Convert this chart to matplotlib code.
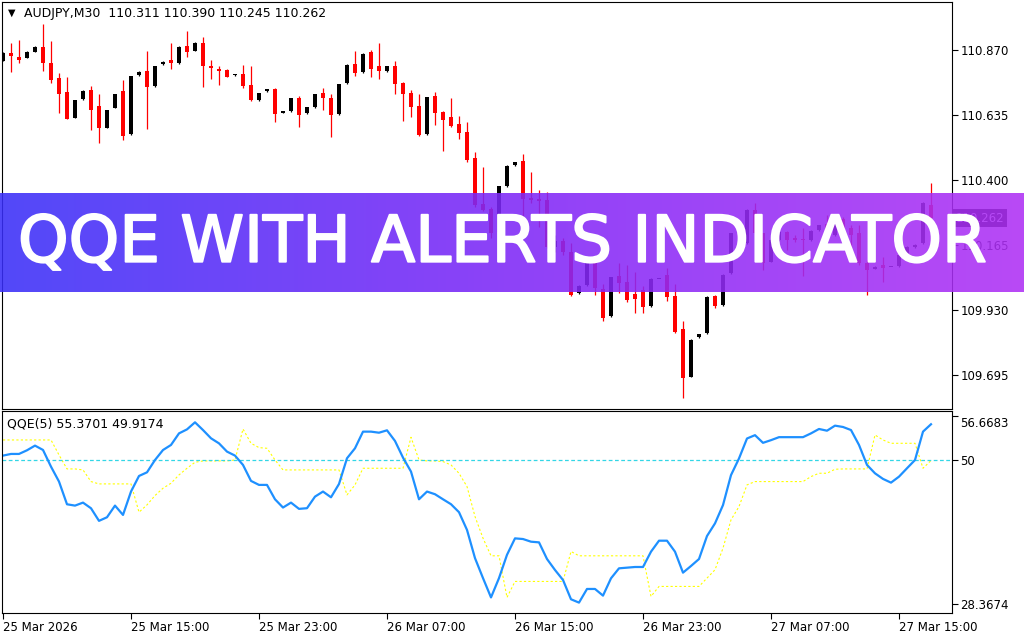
import numpy as np
import matplotlib.pyplot as plt
import matplotlib.patheffects as pe
from matplotlib.transforms import blended_transform_factory, ScaledTranslation

plt.rcParams['font.family'] = 'DejaVu Sans'

# AUDJPY M30 bars, 25 Mar 07:00 .. 27 Mar 17:00
opens = [110.831, 110.860, 110.845, 110.842, 110.864, 110.882, 110.824, 110.769, 110.719, 110.625,
         110.692, 110.725, 110.668, 110.589, 110.661, 110.722, 110.566, 110.780, 110.794, 110.740,
         110.818, 110.834, 110.822, 110.886, 110.867, 110.896, 110.813, 110.802, 110.798, 110.779,
         110.783, 110.743, 110.689, 110.722, 110.729, 110.643, 110.649, 110.696, 110.642, 110.664,
         110.714, 110.696, 110.639, 110.751, 110.819, 110.790, 110.863, 110.812, 110.794, 110.812,
         110.751, 110.714, 110.668, 110.566, 110.704, 110.646, 110.628, 110.602, 110.574, 110.480,
         110.313, 110.295, 110.212, 110.378, 110.454, 110.469, 110.335, 110.331, 110.328, 110.158,
         110.180, 110.140, 109.991, 110.020, 110.104, 110.006, 109.908, 110.053, 110.031, 109.988,
         110.002, 109.944, 110.042, 110.057, 109.981, 109.861, 109.688, 109.832, 109.847, 109.981,
         109.948, 110.064, 110.208, 110.172, 110.292, 110.208, 110.104, 110.183, 110.212, 110.190,
         110.188, 110.183, 110.219, 110.241, 110.201, 110.259, 110.226, 110.208, 110.100, 110.079,
         110.093, 110.085, 110.089, 110.129, 110.158, 110.172, 110.311]
highs = [110.862, 110.894, 110.906, 110.866, 110.884, 110.964, 110.903, 110.788, 110.773, 110.691,
         110.724, 110.740, 110.713, 110.655, 110.713, 110.762, 110.778, 110.794, 110.866, 110.814,
         110.830, 110.894, 110.884, 110.939, 110.898, 110.918, 110.834, 110.812, 110.800, 110.782,
         110.816, 110.812, 110.716, 110.731, 110.732, 110.651, 110.698, 110.704, 110.666, 110.713,
         110.733, 110.711, 110.749, 110.818, 110.866, 110.858, 110.870, 110.895, 110.814, 110.830,
         110.754, 110.725, 110.711, 110.702, 110.718, 110.649, 110.696, 110.631, 110.610, 110.502,
         110.447, 110.302, 110.380, 110.453, 110.467, 110.494, 110.429, 110.364, 110.357, 110.200,
         110.190, 110.172, 110.019, 110.106, 110.106, 110.024, 110.051, 110.100, 110.093, 110.067,
         110.017, 110.044, 110.042, 110.082, 110.024, 109.890, 109.824, 109.845, 109.979, 109.984,
         110.059, 110.210, 110.240, 110.294, 110.317, 110.210, 110.185, 110.215, 110.214, 110.200,
         110.226, 110.218, 110.239, 110.273, 110.257, 110.266, 110.237, 110.237, 110.111, 110.088,
         110.122, 110.087, 110.131, 110.160, 110.167, 110.319, 110.390]
lows = [110.829, 110.792, 110.822, 110.840, 110.862, 110.794, 110.752, 110.641, 110.620, 110.623,
        110.690, 110.581, 110.533, 110.587, 110.659, 110.545, 110.564, 110.778, 110.584, 110.738,
        110.816, 110.801, 110.820, 110.846, 110.865, 110.737, 110.765, 110.743, 110.771, 110.778,
        110.734, 110.687, 110.687, 110.720, 110.610, 110.641, 110.647, 110.592, 110.640, 110.662,
        110.653, 110.555, 110.637, 110.749, 110.777, 110.788, 110.772, 110.765, 110.792, 110.711,
        110.613, 110.628, 110.561, 110.564, 110.599, 110.505, 110.593, 110.548, 110.465, 110.302,
        110.289, 110.190, 110.210, 110.376, 110.452, 110.212, 110.317, 110.230, 110.154, 110.140,
        110.130, 109.981, 109.989, 110.018, 109.984, 109.890, 109.906, 109.991, 109.959, 109.919,
        109.919, 109.942, 110.042, 109.963, 109.848, 109.612, 109.686, 109.830, 109.845, 109.937,
        109.946, 110.062, 110.205, 110.170, 110.206, 110.075, 110.102, 110.180, 110.147, 110.175,
        110.053, 110.181, 110.217, 110.158, 110.199, 110.158, 110.137, 110.093, 109.984, 110.077,
        110.031, 110.084, 110.087, 110.127, 110.156, 110.170, 110.245]
closes = [110.860, 110.849, 110.834, 110.864, 110.882, 110.824, 110.762, 110.713, 110.622, 110.689,
          110.722, 110.653, 110.589, 110.653, 110.711, 110.559, 110.776, 110.792, 110.737, 110.812,
          110.828, 110.822, 110.882, 110.864, 110.896, 110.813, 110.804, 110.795, 110.773, 110.781,
          110.741, 110.689, 110.714, 110.729, 110.640, 110.649, 110.696, 110.635, 110.664, 110.711,
          110.696, 110.635, 110.747, 110.816, 110.787, 110.856, 110.801, 110.794, 110.812, 110.747,
          110.711, 110.664, 110.563, 110.700, 110.642, 110.617, 110.595, 110.570, 110.472, 110.310,
          110.292, 110.208, 110.378, 110.451, 110.465, 110.331, 110.328, 110.324, 110.158, 110.180,
          110.140, 109.984, 110.017, 110.104, 110.010, 109.901, 110.049, 110.028, 109.966, 109.970,
          109.941, 110.042, 110.042, 109.977, 109.850, 109.684, 109.822, 109.843, 109.977, 109.944,
          110.057, 110.208, 110.237, 110.292, 110.208, 110.100, 110.183, 110.212, 110.183, 110.183,
          110.184, 110.216, 110.237, 110.194, 110.255, 110.201, 110.201, 110.100, 110.075, 110.086,
          110.082, 110.086, 110.129, 110.158, 110.165, 110.317, 110.262]

# QQE(5): smoothed RSI (blue) and trailing level (yellow)
qqe_rsi = [50.66, 50.91, 50.91, 51.46, 52.16, 51.51, 49.00, 46.76, 43.35, 43.15,
           43.60, 42.75, 40.86, 41.40, 43.15, 41.75, 45.26, 47.60, 48.15, 50.00,
           51.50, 52.26, 54.00, 54.60, 55.66, 54.50, 53.26, 52.50, 51.26, 50.66,
           49.26, 46.86, 46.26, 46.26, 44.10, 42.86, 43.60, 42.66, 42.76, 44.50,
           45.26, 44.40, 46.40, 50.26, 51.76, 54.26, 54.26, 54.10, 54.46, 52.86,
           50.36, 48.26, 44.10, 45.26, 44.86, 44.10, 43.36, 42.16, 39.50, 35.26,
           32.26, 29.36, 32.26, 35.76, 38.23, 38.13, 37.73, 37.63, 35.13, 33.48,
           31.98, 29.08, 28.58, 30.63, 30.63, 29.63, 32.23, 33.73, 33.83, 33.93,
           33.93, 36.23, 37.88, 37.88, 36.23, 33.08, 34.08, 35.13, 38.58, 40.48,
           43.23, 47.73, 50.23, 53.23, 53.73, 52.58, 52.98, 53.43, 53.43, 53.43,
           53.43, 54.00, 54.66, 54.40, 55.16, 54.96, 54.50, 52.26, 49.26, 48.00,
           47.16, 46.60, 47.50, 48.76, 50.00, 54.26, 55.37]
qqe_trail = [53.01, 53.01, 53.01, 53.01, 53.01, 53.01, 53.01, 50.76, 48.66, 48.66,
             48.51, 46.76, 46.41, 46.41, 46.41, 46.41, 46.41, 42.16, 43.26, 44.66,
             45.76, 46.51, 47.76, 48.76, 49.66, 49.86, 49.86, 49.86, 49.86, 50.01,
             54.66, 52.51, 51.86, 51.76, 50.01, 48.51, 48.51, 48.51, 48.51, 48.51,
             48.51, 48.51, 48.51, 44.76, 46.26, 48.76, 48.76, 48.76, 48.76, 48.76,
             48.76, 53.41, 50.01, 49.86, 49.86, 49.76, 49.26, 48.01, 46.01, 41.51,
             38.26, 35.61, 35.61, 29.36, 31.76, 31.76, 31.76, 31.76, 31.76, 31.76,
             31.76, 36.26, 35.61, 35.61, 35.61, 35.61, 35.61, 35.61, 35.61, 35.61,
             35.61, 29.51, 31.01, 31.01, 31.01, 31.01, 31.01, 31.01, 32.26, 33.51,
             36.76, 41.01, 43.01, 46.26, 46.76, 46.76, 46.76, 46.76, 46.76, 46.76,
             46.76, 47.51, 48.01, 48.01, 48.61, 48.66, 48.66, 48.66, 48.66, 53.76,
             53.01, 52.51, 52.51, 52.51, 52.51, 48.76, 49.92]

price_ticks = [110.870, 110.635, 110.400, 110.165, 109.930, 109.695]
time_labels = ['25 Mar 2026', '25 Mar 15:00', '25 Mar 23:00', '26 Mar 07:00',
               '26 Mar 15:00', '26 Mar 23:00', '27 Mar 07:00', '27 Mar 15:00']
last_price = 110.262

W, H = 1024, 640
fig = plt.figure(figsize=(W / 100, H / 100), dpi=100)
fig.patch.set_facecolor('white')

ax = fig.add_axes([2 / W, 1 - 409 / H, 950 / W, 407 / H])
ax2 = fig.add_axes([2 / W, 1 - 613 / H, 950 / W, 202 / H])

x = np.arange(len(opens))
o = np.array(opens)
h = np.array(highs)
l = np.array(lows)
c = np.array(closes)
cols = np.where(c >= o, 'black', 'red')

ax.vlines(x, l, h, colors=cols, lw=0.9)
body_lo = np.minimum(o, c)
body_h = np.maximum(np.abs(c - o), 0.004)
ax.bar(x, body_h, bottom=body_lo, width=0.62, color=cols, linewidth=0)

xlim = (-0.125, 118.625)
ax.set_xlim(*xlim)
ax.set_ylim(109.572, 111.044)
ax.set_xticks([])
ax.yaxis.tick_right()
ax.set_yticks(price_ticks)
ax.set_yticklabels([f'{p:.3f}' for p in price_ticks])
ax.tick_params(axis='y', direction='out', length=4, width=0.8, labelsize=8.5, pad=2)

tr = blended_transform_factory(ax.transAxes, ax.transData)
ax.text(1.004, last_price, f'{last_price:.3f}', transform=tr, color='white', fontsize=8.5,
        va='center', ha='left',
        bbox=dict(boxstyle='square,pad=0.2', fc='black', ec='none'))

# indicator window
ax2.plot(x, qqe_trail, color='#ffff00', lw=0.8, ls=(0, (2, 2)))
ax2.axhline(50, color='#33d6e6', lw=0.9, ls=(0, (3, 2)))
ax2.plot(x, qqe_rsi, color='#1e90ff', lw=1.6)
ax2.set_xlim(*xlim)
ax2.set_ylim(27.02, 57.36)
ax2.yaxis.tick_right()
ax2.set_yticks([28.3674, 50, 56.6683])
ax2.set_yticklabels(['28.3674', '50', '56.6683'])
ax2.tick_params(axis='y', direction='out', length=4, width=0.8, labelsize=8.5, pad=2)
ax2.set_xticks(np.arange(0, 113, 16))
ax2.set_xticklabels(time_labels)
ax2.tick_params(axis='x', direction='out', length=4, width=0.8, labelsize=8.5, pad=2)
for lab in ax2.get_xticklabels():
    lab.set_ha('left')
# MT4 keeps the top scale label inside the window
top_lab = ax2.yaxis.get_major_ticks()[2].label2
top_lab.set_transform(top_lab.get_transform() + ScaledTranslation(0, -0.06, fig.dpi_scale_trans))

for a in (ax, ax2):
    for s in a.spines.values():
        s.set_linewidth(0.8)
        s.set_color('black')

fig.text(8 / W, 1 - 13 / H, '\u25bc', fontsize=7, va='center', ha='left')
fig.text(24 / W, 1 - 14 / H, 'AUDJPY,M30  110.311 110.390 110.245 110.262',
         fontsize=9, va='center', ha='left')
fig.text(7 / W, 1 - 424 / H, 'QQE(5) 55.3701 49.9174', fontsize=9, va='center', ha='left')

# banner overlay
bax = fig.add_axes([0, 1 - 292 / H, 1, 99 / H])
bax.set_zorder(10)
t = np.linspace(0, 1, 512)
stops_t = [0.0, 0.5, 1.0]
stops_c = np.array([[58, 47, 249], [127, 40, 247], [175, 49, 244]]) / 255
grad = np.stack([np.interp(t, stops_t, stops_c[:, k]) for k in range(3)], axis=-1)
bax.imshow(grad[None, :, :], aspect='auto', alpha=0.88, extent=[0, 1, 0, 1])
bax.set_xlim(0, 1)
bax.set_ylim(0, 1)
bax.set_axis_off()
title = bax.text(503.5 / W, (292 - 261.7) / 99, 'QQE WITH ALERTS INDICATOR', color='white',
                 fontsize=44, fontfamily='DejaVu Sans',
                 ha='center', va='baseline', transform=bax.transAxes,
                 path_effects=[pe.withStroke(linewidth=1.4, foreground='white')])
fig.canvas.draw()
bb = title.get_window_extent()
title.set_fontsize(44 * 969 / bb.width)

fig.savefig('out.png', dpi=100, facecolor='white')
